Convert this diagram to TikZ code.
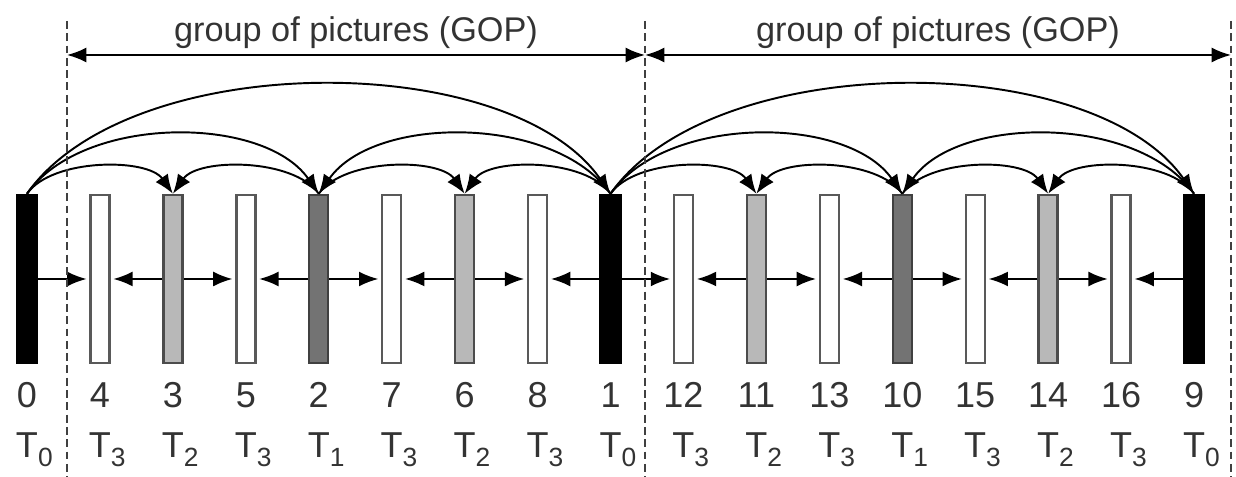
\documentclass[tikz,border=0pt]{standalone}
\usepackage{fontspec}
\setsansfont{Liberation Sans}
\usetikzlibrary{arrows.meta}

\tikzset{
  frame/.style={line width=1.4pt, minimum width=0.38cm, minimum height=3.36cm, inner sep=0pt},
  lvl0/.style={frame, draw=black, fill=black, minimum width=0.4cm},
  lvl1/.style={frame, draw=black!75, fill=black!55},
  lvl2/.style={frame, draw=black!70, fill=black!28},
  lvl3/.style={frame, draw=black!65, fill=white},
  lbl/.style={font=\sffamily\fontsize{20.5}{24}\selectfont, text=black!80, anchor=base, inner sep=0pt},
  pred/.style={-{Latex[length=11pt,width=8.5pt]}, line width=1.1pt},
  fwd/.style={out=55, in=125, looseness=#1},
  bwd/.style={out=125, in=55, looseness=#1},
  bound/.style={draw=black!75, line width=1.6pt, dash pattern=on 4.5pt off 2.5pt}
}

\begin{document}
\begin{tikzpicture}
      \useasboundingbox (0,0) rectangle (24.72,9.54);

      % Frames in display order: coding order / temporal level
      \foreach \fr/\lv [count=\i from 0] in {0/0,4/3,3/2,5/3,2/1,7/3,6/2,8/3,1/0,12/3,11/2,13/3,10/1,15/3,14/2,16/3,9/0} {
        \node[lvl\lv] (f\fr) at (0.54+1.4588*\i, 3.96) {};
        \node[lbl] (n\fr) at (0.54+1.4588*\i, 1.38) {\fr};
        \node[lbl] (t\fr) at (0.54+1.4588*\i, 0.38) {T\rlap{\raisebox{-0.18cm}{\fontsize{15}{15}\selectfont\lv}}};
      }

      % Horizontal predictions into the T3 frames
      \foreach \a/\b in {0/4,3/4,3/5,2/5,2/7,6/7,6/8,1/8,1/12,11/12,11/13,10/13,10/15,14/15,14/16,9/16}
        \draw[pred, shorten >=1.5pt] (f\a) -- (f\b);

      % Arcs of the first GOP
      \draw[pred] (f0.north) to[fwd=0.77] (f3.north);
      \draw[pred] (f2.north) to[bwd=0.77] (f3.north);
      \draw[pred] (f0.north) to[fwd=0.85] (f2.north);
      \draw[pred] (f1.north) to[bwd=0.85] (f2.north);
      \draw[pred] (f2.north) to[fwd=0.77] (f6.north);
      \draw[pred] (f1.north) to[bwd=0.77] (f6.north);
      \draw[pred] (f0.north) to[fwd=0.78] (f1.north);

      % Arcs of the second GOP
      \draw[pred] (f1.north) to[fwd=0.77] (f11.north);
      \draw[pred] (f10.north) to[bwd=0.77] (f11.north);
      \draw[pred] (f1.north) to[fwd=0.85] (f10.north);
      \draw[pred] (f9.north) to[bwd=0.85] (f10.north);
      \draw[pred] (f10.north) to[fwd=0.77] (f14.north);
      \draw[pred] (f9.north) to[bwd=0.77] (f14.north);
      \draw[pred] (f1.north) to[fwd=0.78] (f9.north);

      % GOP boundaries
      \foreach \x [count=\k] in {1.34,12.9,24.62} {
        \coordinate (top\k) at (\x,9.12);
        \coordinate (bot\k) at (\x,0);
        \coordinate (gop\k) at (\x,8.44);
      }
      \draw[bound] (top1) -- (bot1);
      \draw[bound] (top2) -- (bot2);
      \draw[bound] (top3) -- (bot3);

      % GOP spans with their labels
      \draw[pred, {Latex[length=11pt,width=8.5pt]}-{Latex[length=11pt,width=8.5pt]}] (gop1) -- node[lbl, midway, yshift=0.26cm, font=\sffamily\fontsize{19.5}{24}\selectfont] (gopA) {group of pictures (GOP)} (gop2);
      \draw[pred, {Latex[length=11pt,width=8.5pt]}-{Latex[length=11pt,width=8.5pt]}] (gop2) -- node[lbl, midway, yshift=0.26cm, font=\sffamily\fontsize{19.5}{24}\selectfont] (gopB) {group of pictures (GOP)} (gop3);
    \end{tikzpicture}
\end{document}
